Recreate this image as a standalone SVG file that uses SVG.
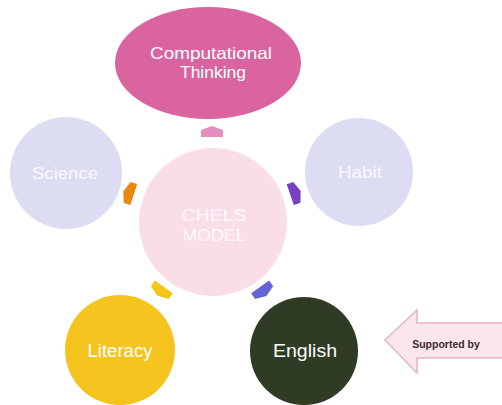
<svg xmlns="http://www.w3.org/2000/svg" width="502" height="405" viewBox="0 0 502 405">
<style>
.t{font-family:"Liberation Sans",Arial,sans-serif;fill:#ffffff;text-anchor:middle}
</style>
<defs>
<polygon id="chev" points="-11,5 11,5 11,-2 0,-6 -11,-2"/>
</defs>
<rect width="502" height="405" fill="#ffffff"/>
<g id="computational-thinking">
<ellipse cx="208" cy="63" rx="93" ry="56" fill="#d9649f"/>
<text class="t" x="211" y="59" font-size="16.5" textLength="122" lengthAdjust="spacingAndGlyphs">Computational</text>
<text class="t" x="213" y="78" font-size="16.5" textLength="66" lengthAdjust="spacingAndGlyphs">Thinking</text>
</g>
<g id="science">
<circle cx="66" cy="173" r="56" fill="#dcdcf2"/>
<text class="t" x="65" y="179" font-size="17" textLength="66" lengthAdjust="spacingAndGlyphs" fill-opacity="0.85">Science</text>
</g>
<g id="habit">
<circle cx="359" cy="172" r="54" fill="#dcdcf2"/>
<text class="t" x="360" y="178" font-size="17" textLength="44" lengthAdjust="spacingAndGlyphs" fill-opacity="0.85">Habit</text>
</g>
<g id="chels-model">
<circle cx="213" cy="222" r="74" fill="#f9dde9"/>
<text class="t" x="214" y="221" font-size="17" textLength="65" lengthAdjust="spacingAndGlyphs" fill-opacity="0.8">CHELS</text>
<text class="t" x="214" y="241" font-size="17" textLength="63" lengthAdjust="spacingAndGlyphs" fill-opacity="0.8">MODEL</text>
</g>
<g id="literacy">
<circle cx="120" cy="350" r="55" fill="#f6c41e"/>
<text class="t" x="120" y="357" font-size="17.5" textLength="65" lengthAdjust="spacingAndGlyphs">Literacy</text>
</g>
<g id="english">
<circle cx="304" cy="351" r="54" fill="#2f3b24"/>
<text class="t" x="305" y="357" font-size="18" textLength="64" lengthAdjust="spacingAndGlyphs">English</text>
</g>
<g id="supported-by">
<polygon points="385,340 417,310 417,323 503,323 503,358 417,358 417,373" fill="#fce6ee" stroke="#e2b6c4" stroke-width="1.5"/>
<text x="446" y="348" font-family="'Liberation Sans',Arial,sans-serif" font-size="10.5" font-weight="bold" fill="#3a2a2e" text-anchor="middle">Supported by</text>
</g>
<g id="connectors">
<use href="#chev" transform="translate(212,132)" fill="#e58fc0"/>
<use href="#chev" transform="translate(129,193) rotate(-72)" fill="#e8890c"/>
<use href="#chev" transform="translate(295,193) rotate(71)" fill="#7442c2"/>
<use href="#chev" transform="translate(161,291) rotate(-144)" fill="#f5c518"/>
<use href="#chev" transform="translate(263,291) rotate(145)" fill="#6464d4"/>
</g>
</svg>
